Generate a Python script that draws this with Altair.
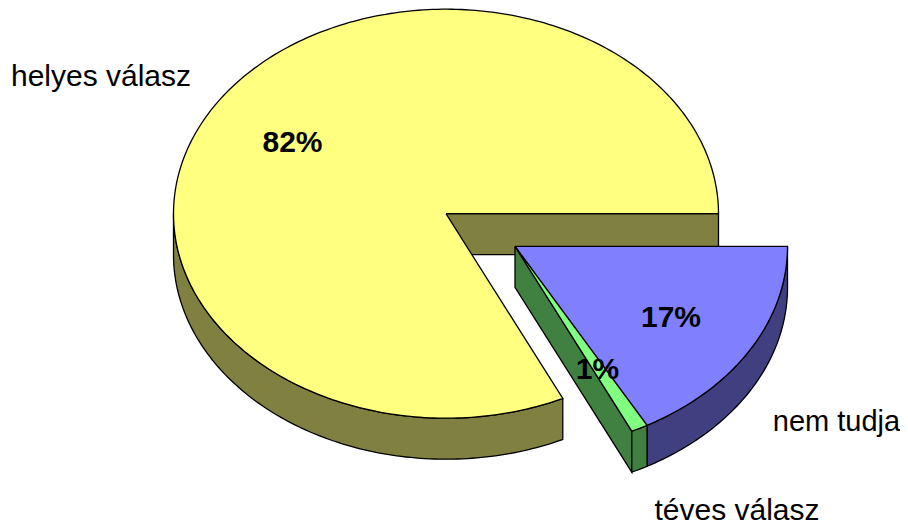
import math
import altair as alt
import pandas as pd

# --- chart values ---
categories = ["helyes válasz", "téves válasz"]
side_category = ["nem tudja"]
shares = [82.05, 16.95, 1.0]
share_labels = ["82%", "17%", "1%"]
top_colors = ["#FFFF80", "#8080FF", "#80FF80"]
wall_colors = ["#808040", "#404080", "#408040"]

# --- pie geometry (page pixels) ---
RX, RY, DEPTH = 272.5, 204.5, 41
CENTER = (446, 213.7)
EXPLODED = (515, 246.4)
PAGE_W, PAGE_H = 892, 516
MARGIN = 8


def arc(cx, cy, a0, a1, dy=0):
    n = max(2, int(abs(a1 - a0)) + 2)
    pts = []
    for i in range(n):
        a = math.radians(a0 + (a1 - a0) * i / (n - 1))
        pts.append((cx + RX * math.cos(a), cy + RY * math.sin(a) + dy))
    return pts


def closed(pts):
    return pts + [pts[0]]


# slice angles, clockwise on screen from east
blue_end = shares[1] * 3.6
green_end = blue_end + shares[2] * 3.6

cx, cy = CENTER
ex, ey = EXPLODED
polys = []

# yellow slice: outer wall, inner wall, top
polys.append((wall_colors[0], closed(arc(cx, cy, green_end, 180) + arc(cx, cy, 180, green_end, DEPTH))))
polys.append((wall_colors[0], closed([(cx, cy), (cx + RX, cy), (cx + RX, cy + DEPTH), (cx, cy + DEPTH)])))
polys.append((top_colors[0], closed([(cx, cy)] + arc(cx, cy, green_end, 360))))

# exploded slices: inner wall, outer walls, tops
corner = arc(ex, ey, green_end, green_end)[0]
polys.append((wall_colors[2], closed([(ex, ey), corner, (corner[0], corner[1] + DEPTH), (ex, ey + DEPTH)])))
polys.append((wall_colors[1], closed(arc(ex, ey, 0, blue_end) + arc(ex, ey, blue_end, 0, DEPTH))))
polys.append((wall_colors[2], closed(arc(ex, ey, blue_end, green_end) + arc(ex, ey, green_end, blue_end, DEPTH))))
polys.append((top_colors[1], closed([(ex, ey)] + arc(ex, ey, 0, blue_end))))
polys.append((top_colors[2], closed([(ex, ey)] + arc(ex, ey, blue_end, green_end))))

x_scale = alt.Scale(domain=[MARGIN, MARGIN + PAGE_W], range=[0, PAGE_W], nice=False, zero=False)
y_scale = alt.Scale(domain=[MARGIN, MARGIN + PAGE_H], range=[0, PAGE_H], nice=False, zero=False)

layers = []
for color, pts in polys:
    df = pd.DataFrame({"i": range(len(pts)), "x": [p[0] for p in pts], "y": [p[1] for p in pts]})
    layers.append(
        alt.Chart(df)
        .mark_line(fill=color, stroke="black", strokeWidth=1.3, strokeJoin="miter", clip=False)
        .encode(
            x=alt.X("x:Q", scale=x_scale, axis=None),
            y=alt.Y("y:Q", scale=y_scale, axis=None),
            order="i:Q",
        )
    )

# --- text anchors (page pixels) ---
cat_anchor = [(101, 86), (737, 519.5)]
side_anchor = [(836.5, 430.5)]
pct_anchor = [(292.5, 151.5), (671, 326.5), (597.5, 379)]


def frame(texts, anchors):
    return pd.DataFrame({"t": texts, "x": [a[0] for a in anchors], "y": [a[1] for a in anchors]})


enc = dict(
    x=alt.X("x:Q", scale=x_scale, axis=None),
    y=alt.Y("y:Q", scale=y_scale, axis=None),
    text="t:N",
)
layers.append(
    alt.Chart(frame(categories, cat_anchor))
    .mark_text(font="Liberation Sans", fontSize=30, align="center", baseline="alphabetic", color="black")
    .encode(**enc)
)
layers.append(
    alt.Chart(frame(side_category, side_anchor))
    .mark_text(font="Liberation Sans", fontSize=29, align="center", baseline="alphabetic", color="black")
    .encode(**enc)
)
layers.append(
    alt.Chart(frame(share_labels, pct_anchor))
    .mark_text(font="Liberation Sans", fontSize=30, fontWeight="bold", align="center", baseline="alphabetic", color="black")
    .encode(**enc)
)

chart = (
    alt.layer(*layers)
    .properties(width=PAGE_W, height=PAGE_H, padding=0, autosize=alt.AutoSizeParams(type="none"))
    .configure_view(stroke=None)
)
chart.save("out.html", embed_options={"renderer": "svg", "actions": False})
